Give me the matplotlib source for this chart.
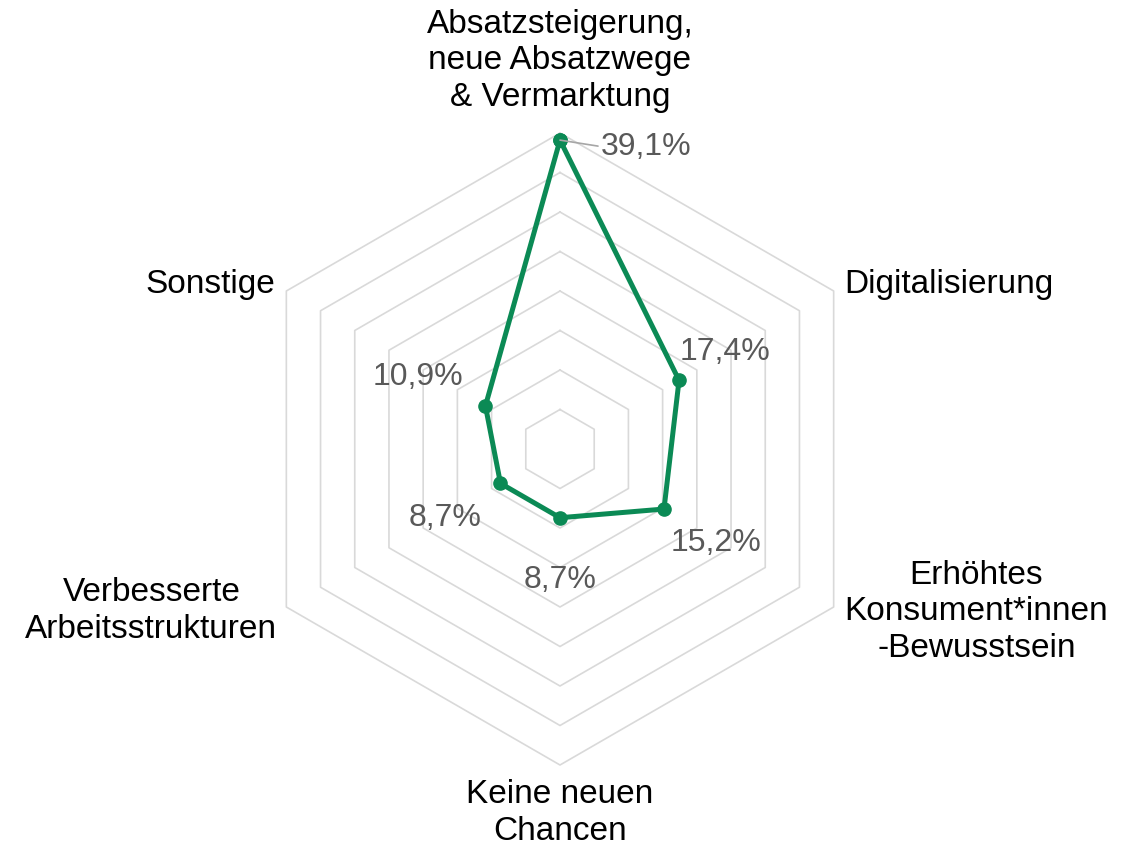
import numpy as np
import matplotlib.pyplot as plt

plt.rcParams['font.family'] = ['Liberation Sans', 'DejaVu Sans']

# Data
categories = ['Absatzsteigerung,\nneue Absatzwege\n& Vermarktung',
              'Digitalisierung',
              'Erhöhtes\nKonsument*innen\n-Bewusstsein',
              'Keine neuen\nChancen',
              'Verbesserte\nArbeitsstrukturen',
              'Sonstige']
values = [39.1, 17.4, 15.2, 8.7, 8.7, 10.9]
value_labels = ['39,1%', '17,4%', '15,2%', '8,7%', '8,7%', '10,9%']
ring_levels = [5, 10, 15, 20, 25, 30, 35, 40]

green = '#0B8A55'
grid_col = '#D9D9D9'
label_col = '#595959'

n = len(categories)
angles = np.arange(n) * 2 * np.pi / n

fig = plt.figure(figsize=(11.34, 8.47), dpi=100)
cx, cy = 560 / 1134, 1 - 449 / 847
rx, ry = 316 / 1134, 316 / 847
ax = fig.add_axes([cx - rx, cy - ry, 2 * rx, 2 * ry], projection='polar')
ax.set_theta_offset(np.pi / 2)
ax.set_theta_direction(-1)
ax.set_ylim(0, 40)
ax.axis('off')

# hexagon grid (no spokes)
closed = np.append(angles, angles[0])
for lv in ring_levels:
    ax.plot(closed, [lv] * (n + 1), color=grid_col, lw=1.2, zorder=1, clip_on=False)

# data
ax.plot(closed, values + [values[0]], color=green, lw=3.6, zorder=3, clip_on=False,
        marker='o', markersize=9.5, solid_joinstyle='round')

# data labels (offsets in pixels, y down)
px = 0.72
lab_off = [(86, 7), (46, -28), (52, 34), (0, 62), (-55, 35), (-67, -29)]
for a, v, t, (dx, dy) in zip(angles, values, value_labels, lab_off):
    ax.annotate(t, (a, v), xytext=(dx * px, -dy * px), textcoords='offset points',
                ha='center', va='center', fontsize=23, color=label_col, zorder=4)
# leader line for top label
ax.annotate('', (angles[0], values[0]), xytext=(38 * px, -6 * px), textcoords='offset points',
            arrowprops=dict(arrowstyle='-', color='#A6A6A6', lw=1.2, shrinkA=0, shrinkB=0))

# category labels
cat_off = [(0, -72, 'center'), (11, -6, 'left'), (11, 5, 'left'),
           (0, 48, 'center'), (-9, 4, 'right'), (-11, -6, 'right')]
for a, t, (dx, dy, ha) in zip(angles, categories, cat_off):
    ax.annotate(t, (a, 40), xytext=(dx * px, -dy * px), textcoords='offset points',
                ha=ha, va='center', multialignment='center', fontsize=24,
                color='black', linespacing=1.24)

fig.savefig('out.png', dpi=100)
